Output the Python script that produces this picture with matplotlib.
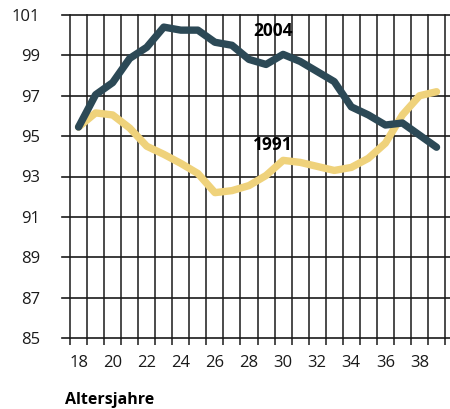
import numpy as np
import matplotlib.pyplot as plt

plt.rcParams['font.family'] = ['Open Sans', 'DejaVu Sans']

# Altersjahre 18..39
ages = list(range(18, 40))
y2004 = [95.45, 97.05, 97.65, 98.85, 99.4, 100.4, 100.25, 100.25, 99.65, 99.5, 98.8,
         98.55, 99.05, 98.7, 98.2, 97.7, 96.45, 96.05, 95.55, 95.65, 95.05, 94.45]
y1991 = [95.45, 96.15, 96.05, 95.4, 94.5, 94.1, 93.65, 93.15, 92.2, 92.3, 92.55,
         93.05, 93.8, 93.7, 93.5, 93.3, 93.45, 93.9, 94.65, 96.05, 97.0, 97.2]
yticks = [85, 87, 89, 91, 93, 95, 97, 99, 101]
xticks = [18, 20, 22, 24, 26, 28, 30, 32, 34, 36, 38]

col_2004 = '#2c4956'
col_1991 = '#efd27b'

fig = plt.figure(figsize=(4.5, 4.09), dpi=100)
ax = fig.add_axes([62/450, (409-338)/409, 1 - 62/450, (338-15)/409])
ax.set_xlim(17.03, 39.79)
ax.set_ylim(85, 101)

# Gitterlinien
for y in yticks:
    ax.axhline(y, color='#1a1a1a', lw=1.2, zorder=1, clip_on=False)
for x in np.arange(17.5, 40, 1.0):
    ax.axvline(x, color='#1a1a1a', lw=1.1, zorder=1, clip_on=False)

ax.plot(ages, y1991, color=col_1991, lw=5.3, solid_capstyle='round',
        solid_joinstyle='round', zorder=3)
ax.plot(ages, y2004, color=col_2004, lw=5.3, solid_capstyle='round',
        solid_joinstyle='round', zorder=4)

ax.text(29.4, 100.2, '2004', fontsize=12.5, fontweight='bold', ha='center', va='center')
ax.text(29.4, 94.55, '1991', fontsize=12.5, fontweight='bold', ha='center', va='center')

for s in ax.spines.values():
    s.set_visible(False)

ax.set_yticks(yticks)
ax.set_yticklabels([str(v) for v in yticks])
ax.set_xticks(xticks)
ax.set_xticklabels([str(v) for v in xticks])
ax.set_xticks(np.arange(17.5, 40, 1.0), minor=True)
ax.tick_params(axis='y', length=0, pad=16, labelsize=12, colors='#1a1a1a')
ax.tick_params(axis='x', which='major', length=0, pad=12, labelsize=12, colors='#1a1a1a')
ax.tick_params(axis='x', which='minor', length=5, width=1.1, color='#1a1a1a', direction='out')
ax.tick_params(axis='y', which='minor', length=0)

fig.text(65/450, (409-404)/409, 'Altersjahre', fontsize=11.5, fontweight='bold',
         ha='left', va='baseline')

fig.savefig('out.png', dpi=100)
